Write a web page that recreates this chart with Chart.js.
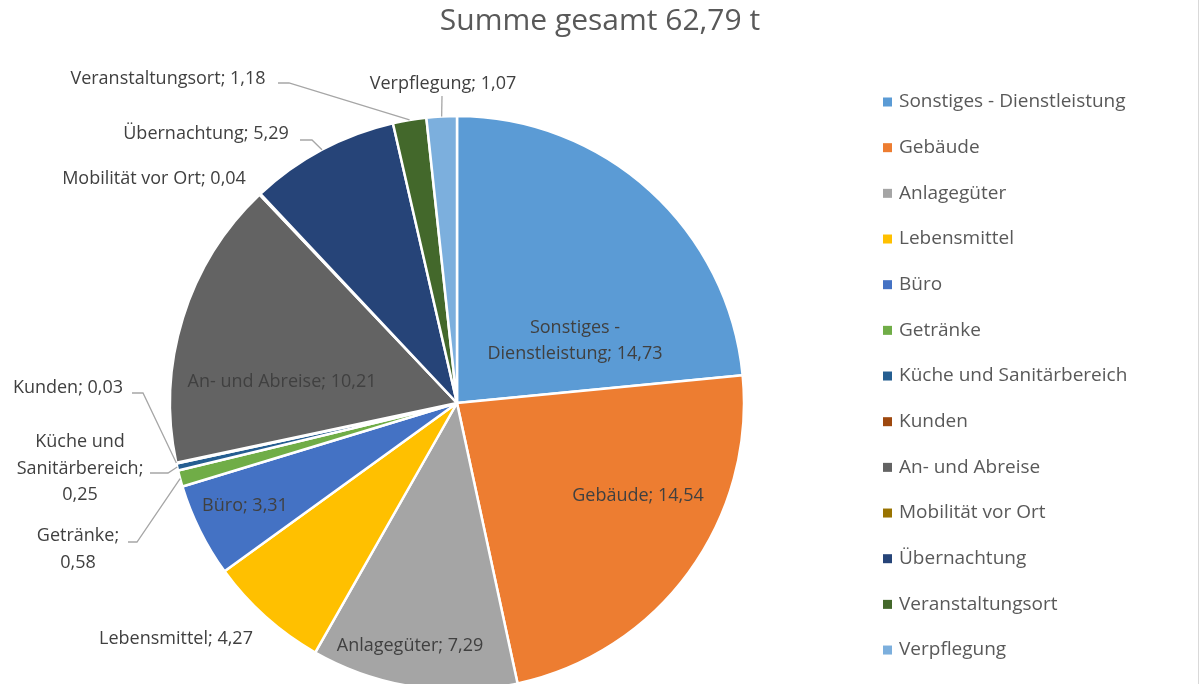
<!DOCTYPE html>
<html><head><meta charset="utf-8">
<script src="https://cdn.jsdelivr.net/npm/chart.js@4.4.1/dist/chart.umd.min.js"></script>
<style>html,body{margin:0;padding:0;background:#fff;overflow:hidden}canvas{display:block}</style>
</head><body>
<canvas id="c" width="1200" height="684"></canvas>
<script>
const titleText = 'Summe gesamt 62,79 t';
const categories = ['Sonstiges - Dienstleistung','Gebäude','Anlagegüter','Lebensmittel','Büro','Getränke','Küche und Sanitärbereich','Kunden','An- und Abreise','Mobilität vor Ort','Übernachtung','Veranstaltungsort','Verpflegung'];
const values = [14.73,14.54,7.29,4.27,3.31,0.58,0.25,0.03,10.21,0.04,5.29,1.18,1.07];
const colors = ['#5B9BD5','#ED7D31','#A5A5A5','#FFC000','#4472C4','#70AD47','#255E91','#9E480E','#636363','#997300','#264478','#43682B','#7CAFDD'];

const fmt = v => v.toFixed(2).replace('.', ',');
const FONT = '"Open Sans", "Noto Sans", sans-serif';

// label placement (layout only, not data)
const labelLayout = [
  {x:575, y:328, lh:26, wrap:['Sonstiges -','Dienstleistung; {v}']},
  {x:638, y:496},
  {x:410, y:646},
  {x:176, y:639},
  {x:245, y:506},
  {x:78, y:536, lh:27, wrap:['Getränke;','{v}'], leader:[[128,542],[137,542]]},
  {x:80, y:442, lh:26.5, wrap:['Küche und','Sanitärbereich;','{v}'], leader:[[150,473],[168,473]]},
  {x:68, y:388, leader:[[132,393],[143,393]]},
  {x:282, y:382},
  {x:154, y:179},
  {x:206, y:134, leader:[[300,140],[312,140]]},
  {x:168, y:79, leader:[[278,83],[289,83]]},
  {x:443, y:84, leader:[[442,96]]}
];

const legendLayout = {boxX:883, textX:899, y0:102, dy:45.67, box:9};

const overlay = {
  id:'overlay',
  afterDraw(chart){
    const ctx = chart.ctx;
    const meta = chart.getDatasetMeta(0);
    ctx.save();
    // title
    ctx.fillStyle = '#595959';
    ctx.font = '30px ' + FONT;
    ctx.textAlign = 'center';
    ctx.textBaseline = 'middle';
    ctx.fillText(titleText, 600, 21);

    // leader lines
    ctx.strokeStyle = '#A6A6A6';
    ctx.lineWidth = 1.3;
    labelLayout.forEach((L, i) => {
      if (!L.leader) return;
      const arc = meta.data[i];
      const mid = (arc.startAngle + arc.endAngle) / 2;
      const px = arc.x + Math.cos(mid) * arc.outerRadius;
      const py = arc.y + Math.sin(mid) * arc.outerRadius;
      ctx.beginPath();
      ctx.moveTo(L.leader[0][0], L.leader[0][1]);
      for (let k = 1; k < L.leader.length; k++) ctx.lineTo(L.leader[k][0], L.leader[k][1]);
      ctx.lineTo(px, py);
      ctx.stroke();
    });

    // data labels
    ctx.font = '18px ' + FONT;
    ctx.fillStyle = '#404040';
    ctx.textAlign = 'center';
    ctx.textBaseline = 'middle';
    labelLayout.forEach((L, i) => {
      const v = fmt(values[i]);
      const lines = L.wrap ? L.wrap.map(s => s.replace('{v}', v)) : [categories[i] + '; ' + v];
      lines.forEach((s, k) => ctx.fillText(s, L.x, L.y + k * (L.lh || 26)));
    });

    // legend
    ctx.font = '19px ' + FONT;
    ctx.textAlign = 'left';
    categories.forEach((c, i) => {
      const y = legendLayout.y0 + i * legendLayout.dy;
      ctx.fillStyle = colors[i];
      ctx.fillRect(legendLayout.boxX, y - legendLayout.box/2, legendLayout.box, legendLayout.box);
      ctx.fillStyle = '#595959';
      ctx.fillText(c, legendLayout.textX, y);
    });

    // right frame line
    ctx.strokeStyle = '#D9D9D9';
    ctx.lineWidth = 1;
    ctx.beginPath();
    ctx.moveTo(1198.5, 0); ctx.lineTo(1198.5, 684);
    ctx.stroke();
    ctx.restore();
  }
};

new Chart(document.getElementById('c'), {
  type:'pie',
  data:{
    labels: categories,
    datasets:[{
      data: values,
      backgroundColor: colors,
      borderColor:'#ffffff',
      borderWidth:2.5,
      radius:287,
      clip:false
    }]
  },
  options:{
    responsive:false,
    animation:false,
    events:[],
    layout:{padding:{left:0, right:286, top:122, bottom:0}},
    plugins:{legend:{display:false}, title:{display:false}, tooltip:{enabled:false}}
  },
  plugins:[overlay]
});
</script>
</body></html>
